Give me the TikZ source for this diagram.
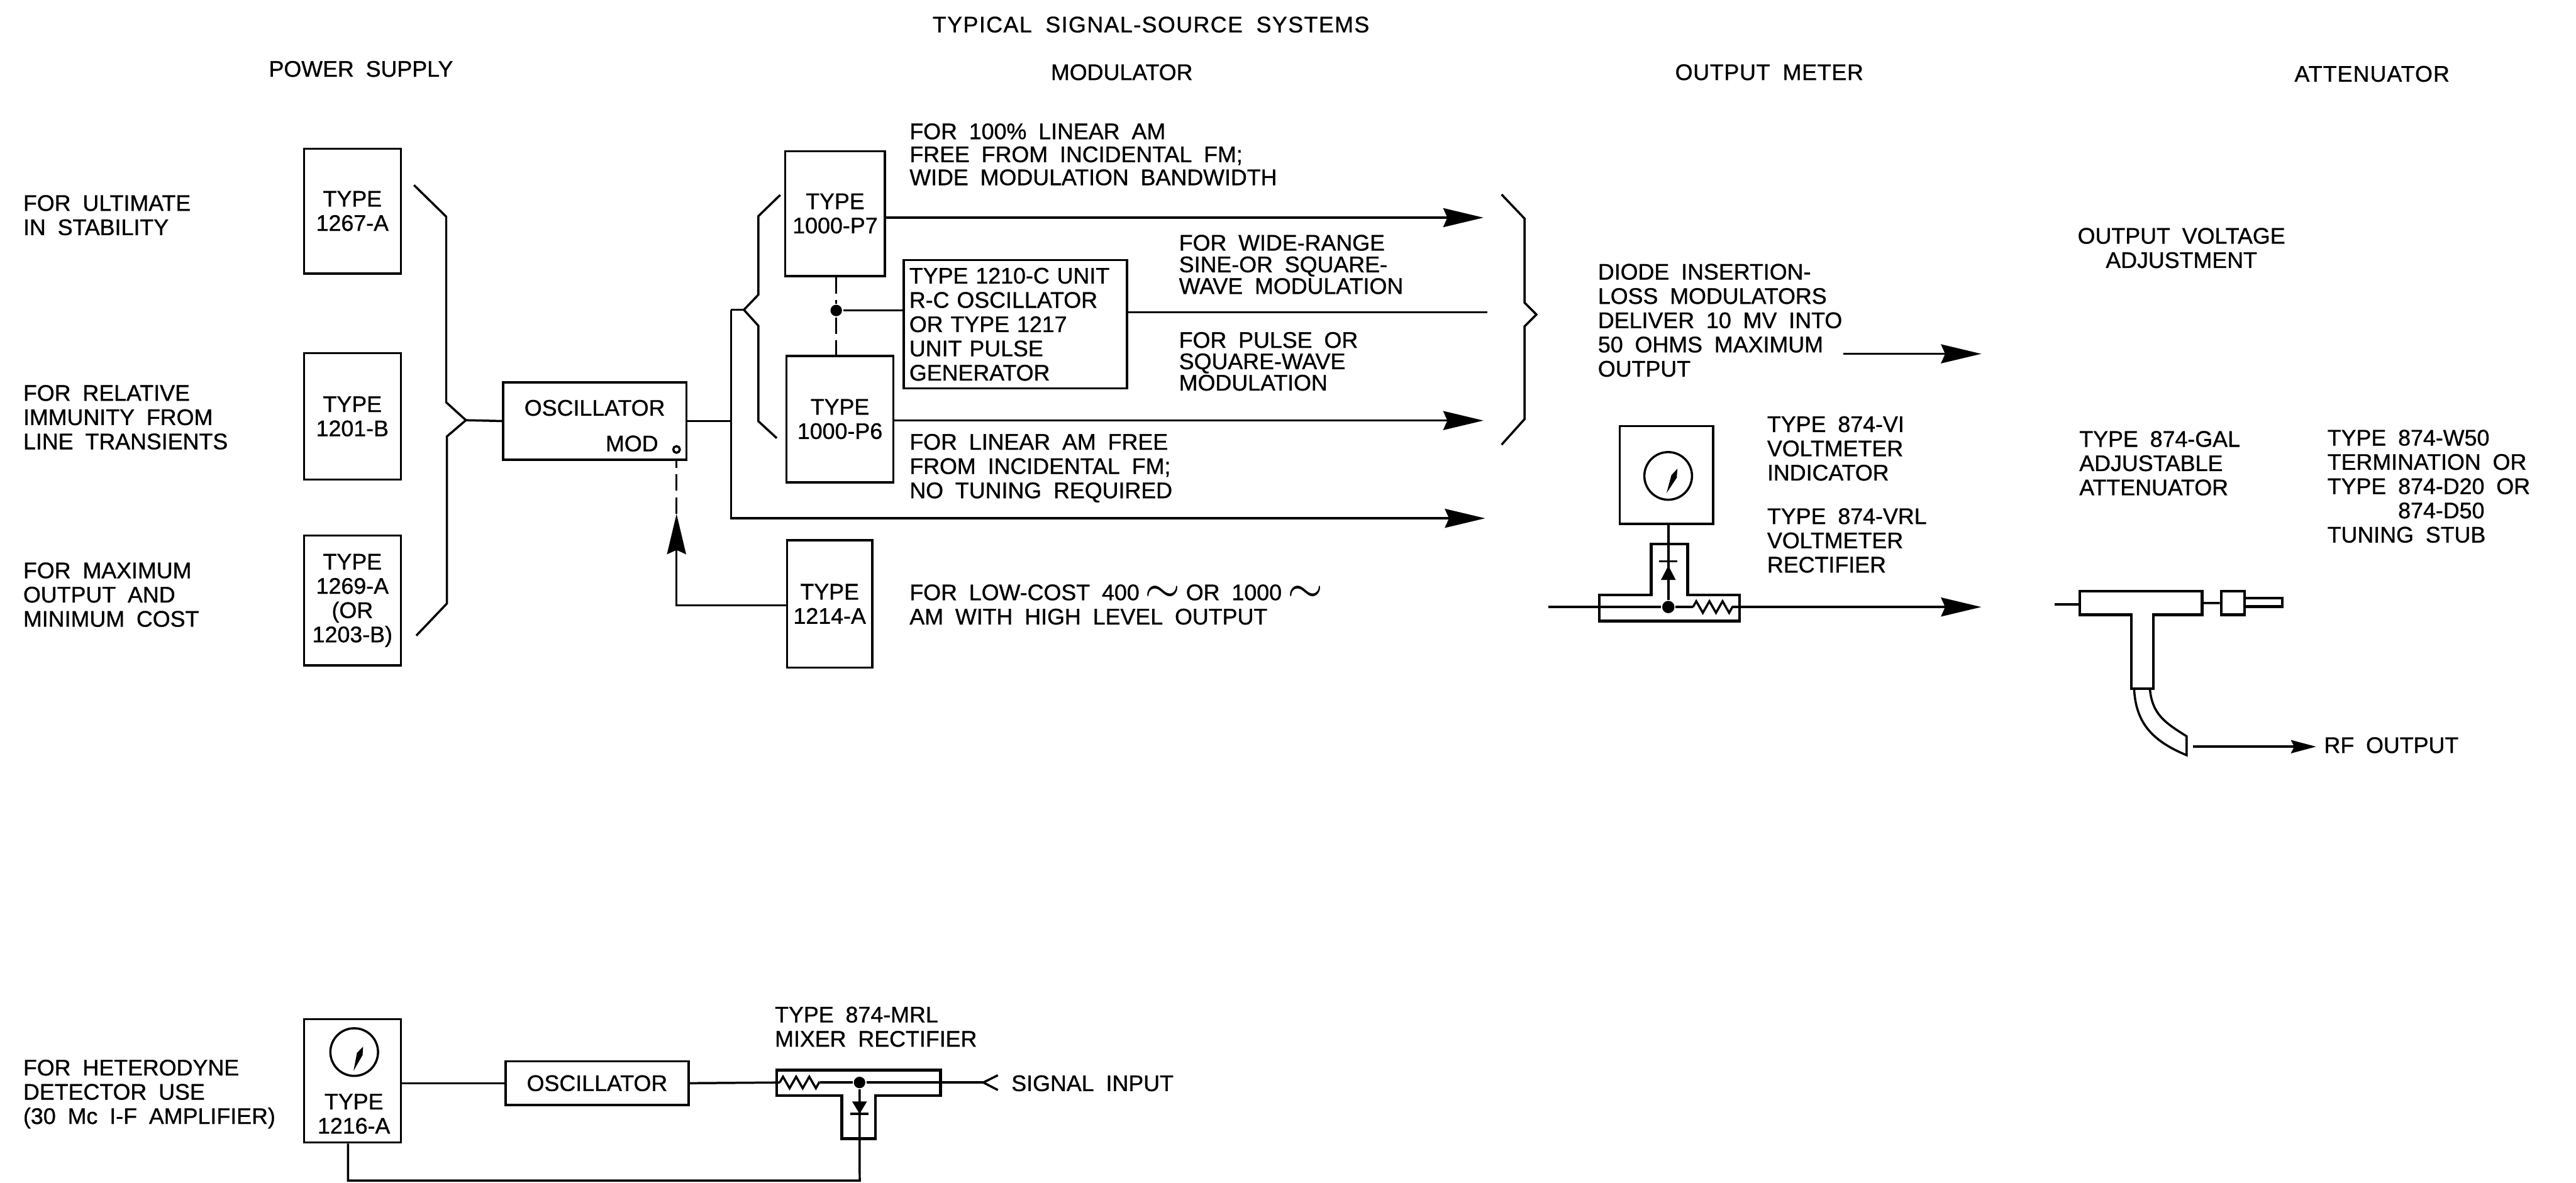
\documentclass[tikz,border=0pt]{standalone}
\usepackage{fontspec}
\setmainfont[WordSpace=1.9,FakeBold=.9]{Liberation Sans}
\usetikzlibrary{arrows.meta,positioning,decorations.pathmorphing}

\begin{document}
\begin{tikzpicture}[
    line width=.38pt,
    box/.style={draw, inner sep=0pt, align=center, font=\fontsize{3.9}{4.2}\selectfont},
    lbl/.style={inner sep=0pt, anchor=west, align=left, font=\fontsize{3.9}{4.2}\selectfont},
    lblB/.style={lbl, font=\fontsize{3.9}{3.75}\selectfont},
    lblC/.style={lbl, font=\fontsize{3.9}{3.7}\selectfont},
    tee/.style={line width=.5pt},
    arr/.style={-{Stealth[length=.245cm,width=.115cm,inset=.025cm]}},
    sarr/.style={-{Stealth[length=.153cm,width=.08cm,inset=.02cm]}},
    dsh/.style={dash pattern=on .1cm off .04cm},
    dotn/.style={circle, fill, inner sep=0pt, minimum size=.07cm},
    meter/.style={circle, draw, inner sep=0pt, minimum size=.29cm},
    res/.style={decorate, decoration={zigzag, segment length=.08cm, amplitude=.035cm}}
]
\useasboundingbox (0,0) rectangle (15.68,7.2);

\node[lbl] (title) at (5.67,7.05) {\addfontfeature{LetterSpace=4}TYPICAL SIGNAL-SOURCE SYSTEMS};
\node[lbl] (hpower) at (1.63,6.78) {POWER SUPPLY};
\node[lbl] (hmod) at (6.39,6.76) {MODULATOR};
\node[lbl] (hmeter) at (10.19,6.76) {\addfontfeature{LetterSpace=2}OUTPUT METER};
\node[lbl] (hatt) at (13.96,6.75) {\addfontfeature{LetterSpace=3}ATTENUATOR};

\node[lbl] (forA) at (.135,5.89) {FOR ULTIMATE\\IN STABILITY};
\node[lbl] (forB) at (.135,4.66) {FOR RELATIVE\\IMMUNITY FROM\\LINE TRANSIENTS};
\node[lbl] (forC) at (.135,3.58) {FOR MAXIMUM\\OUTPUT AND\\MINIMUM COST};
\node[lbl] (forD) at (.135,.54) {FOR HETERODYNE\\DETECTOR USE\\(30 Mc I-F AMPLIFIER)};

\node[box, minimum width=.59cm, minimum height=.76cm] (pwrA) at (2.145,5.915) {TYPE\\1267-A};
\node[box, minimum width=.59cm, minimum height=.77cm] (pwrB) at (2.145,4.665) {TYPE\\1201-B};
\node[box, minimum width=.59cm, minimum height=.79cm] (pwrC) at (2.145,3.545) {TYPE\\1269-A\\(OR\\1203-B)};
\node[box, minimum width=.59cm, minimum height=.75cm] (pwrD) at (2.145,.621) {};
\node[box, minimum width=1.115cm, minimum height=.47cm] (osc) at (3.62,4.637) {};
\node[lbl, anchor=center] (osclbl) at (3.62,4.717) {OSCILLATOR};
\node[lbl] (modlbl) at (3.68,4.50) {MOD};
\node[circle, draw, inner sep=0pt, minimum size=.04cm] (modpin) at (4.118,4.464) {};
\node[box, minimum width=.607cm, minimum height=.76cm] (pSeven) at (5.0835,5.90) {TYPE\\1000-P7};
\node[box, minimum width=.651cm, minimum height=.769cm] (pSix) at (5.1125,4.6485) {TYPE\\1000-P6};
\node[box, minimum width=.52cm, minimum height=.774cm] (lowc) at (5.05,3.524) {TYPE\\1214-A};
\node[box, minimum width=1.36cm, minimum height=.782cm, text width=1.29cm, align=left] (unit) at (6.18,5.226) {TYPE 1210-C UNIT\\R-C OSCILLATOR\\OR TYPE 1217\\UNIT PULSE\\GENERATOR};
\node[dotn] (dotA) at (5.09,5.31) {};

\node[lbl, font=\fontsize{3.9}{3.98}\selectfont] (txtA) at (5.53,6.26) {FOR 100\% LINEAR AM\\FREE FROM INCIDENTAL FM;\\WIDE MODULATION BANDWIDTH};
\node[lblB] (txtB) at (7.17,5.59) {FOR WIDE-RANGE\\SINE-OR SQUARE-\\WAVE MODULATION};
\node[lblC] (txtC) at (7.17,5.00) {FOR PULSE OR\\SQUARE-WAVE\\MODULATION};
\node[lbl] (txtD) at (5.53,4.35) {FOR LINEAR AM FREE\\FROM INCIDENTAL FM;\\NO TUNING REQUIRED};
\node[lbl] (txtE) at (5.53,3.52) {FOR LOW-COST 400\,\scalebox{1.25}{$\sim$}\,OR 1000\,\scalebox{1.25}{$\sim$}\\AM WITH HIGH LEVEL OUTPUT};
\node[lbl] (txtF) at (9.72,5.25) {DIODE INSERTION-\\LOSS MODULATORS\\DELIVER 10 MV INTO\\50 OHMS MAXIMUM\\OUTPUT};
\node[lbl, align=center] (txtG) at (12.64,5.69) {OUTPUT VOLTAGE\\ADJUSTMENT};
\node[lbl] (txtH) at (10.75,4.47) {TYPE 874-VI\\VOLTMETER\\INDICATOR};
\node[lbl] (txtI) at (10.75,3.91) {TYPE 874-VRL\\VOLTMETER\\RECTIFIER};
\node[lbl] (txtJ) at (12.65,4.38) {TYPE 874-GAL\\ADJUSTABLE\\ATTENUATOR};
\node[lbl] (txtK) at (14.16,4.24) {TYPE 874-W50\\TERMINATION OR\\TYPE 874-D20 OR\\\phantom{TYPE }874-D50\\TUNING STUB};
\node[lbl] (txtL) at (4.71,.95) {TYPE 874-MRL\\MIXER RECTIFIER};
\node[lbl] (rfout) at (14.14,2.664) {RF OUTPUT};
\node[lbl] (sigin) at (6.15,.606) {SIGNAL INPUT};

\coordinate (braceA) at (2.836,4.642);
\coordinate (braceB) at (4.528,5.314);
\coordinate (trunkT) at (4.45,5.314);
\coordinate (trunkB) at (4.45,4.045);
\coordinate (endA) at (9.03,5.875);
\coordinate (endB) at (9.03,4.64);
\coordinate (endC) at (9.04,4.045);
\coordinate (endU) at (9.053,5.30);
\coordinate (modtip) at (4.118,4.072);
\coordinate (modbend) at (4.118,3.516);

\draw (2.52,6.073) -- (2.716,5.881) -- (2.716,4.751) -- (braceA) -- (2.72,4.543) -- (2.72,3.526) -- (2.534,3.331);
\draw (braceA) -- (osc.west);
\draw (osc.east) -- (osc.east -| trunkT);
\draw (4.749,6.013) -- (4.616,5.884) -- (4.616,5.406) -- (braceB) -- (4.616,5.217) -- (4.616,4.636) -- (4.728,4.533);
\draw (braceB) -- (trunkT);
\draw[arr] (trunkT) -- (trunkB) -- (endC);
\draw (9.14,6.016) -- (9.28,5.869) -- (9.28,5.357) -- (9.352,5.285) -- (9.28,5.213) -- (9.28,4.649) -- (9.14,4.493);
\draw[arr] (pSeven.east |- endA) -- (endA);
\draw[arr] (pSix.east |- endB) -- (endB);
\draw (unit.east |- endU) -- (endU);
\draw[dsh] (pSeven.south -| dotA) -- (dotA) -- (pSix.north -| dotA);
\draw (dotA) -- (dotA -| unit.west);
\draw[arr] (lowc.west |- modbend) -- (modbend) -- (modtip);
\draw[dsh] (modtip) -- (modtip |- osc.south);

\coordinate (arrowS) at (11.22,5.046);
\coordinate (arrowE) at (12.06,5.046);
\draw[arr] (arrowS) -- (arrowE);

\node[box, minimum width=.567cm, minimum height=.596cm] (vmeter) at (10.1435,4.309) {};
\node[meter] (dialA) at (10.154,4.303) {};
\fill (10.144,4.198) -- (10.2065,4.2927) -- (10.21,4.347) -- (10.1735,4.3073) -- cycle;
\node[dotn, minimum size=.075cm] (dotB) at (10.155,3.505) {};
\coordinate (inB) at (9.424,3.505);
\coordinate (resA) at (10.305,3.505);
\coordinate (resB) at (10.548,3.505);
\coordinate (endD) at (12.06,3.505);
\draw[tee] (9.734,3.578) -- (10.05,3.578) -- (10.05,3.888) -- (10.272,3.888) -- (10.272,3.578) -- (10.588,3.578) -- (10.588,3.42) -- (9.734,3.42) -- cycle;
\draw (inB) -- (dotB) -- (resA);
\draw[res] (resA) -- (resB);
\draw[arr] (resB) -- (endD);
\draw (vmeter.south -| dotB) -- (dotB);
\fill (10.155,3.757) -- (10.11,3.67) -- (10.20,3.67) -- cycle;
\draw (10.10,3.783) -- (10.21,3.783);

\coordinate (inC) at (12.507,3.521);
\coordinate (teeR) at (13.403,3.529);
\coordinate (outS) at (13.347,2.655);
\coordinate (outE) at (14.098,2.655);
\node[box, tee, minimum width=.143cm, minimum height=.145cm] (conn) at (13.5915,3.5295) {};
\draw (inC) -- (12.66,3.521);
\draw[tee] (12.66,3.602) -- (13.403,3.602) -- (13.403,3.457) -- (13.108,3.457) -- (13.108,3.008) -- (12.974,3.008) -- (12.974,3.457) -- (12.66,3.457) -- cycle;
\draw (teeR) -- (conn.west);
\draw[tee] (conn.east) ++(0,.03) -- ++(.221,0) -- ++(0,-.053) -- ++(-.221,0);
\draw (12.99,3.008) .. controls (13.0,2.8) and (13.1,2.69) .. (13.31,2.603) -- (13.31,2.718) .. controls (13.18,2.8) and (13.1,2.85) .. (13.086,3.008);
\draw[sarr] (outS) -- (outE);

\node[meter] (dialB) at (2.156,.796) {};
\fill (2.152,.682) -- (2.207,.778) -- (2.21,.829) -- (2.173,.792) -- cycle;
\node[lbl, anchor=center, align=center] (pwrDlbl) at (2.154,.42) {TYPE\\1216-A};
\node[box, minimum width=1.115cm, minimum height=.267cm] (oscB) at (3.6345,.6065) {OSCILLATOR};
\node[dotn] (dotC) at (5.232,.611) {};
\coordinate (resC) at (4.746,.611);
\coordinate (resD) at (4.99,.611);
\coordinate (sigtip) at (5.985,.611);
\coordinate (lowL) at (2.118,.014);
\coordinate (lowR) at (5.233,.014);
\draw (pwrD.east |- oscB.west) -- (oscB.west);
\draw (oscB.east) -- (resC);
\draw[res] (resC) -- (resD);
\draw (resD) -- (dotC) -- (sigtip);
\draw (6.074,.655) -- (sigtip) -- (6.074,.565);
\draw[tee] (4.728,.686) -- (5.724,.686) -- (5.724,.531) -- (5.328,.531) -- (5.328,.268) -- (5.123,.268) -- (5.123,.531) -- (4.728,.531) -- cycle;
\draw (pwrD.south -| lowL) -- (lowL) -- (lowR) -- (dotC);
\fill (5.232,.42) -- (5.187,.495) -- (5.277,.495) -- cycle;
\draw (5.177,.42) -- (5.287,.42);
\end{tikzpicture}
\end{document}
